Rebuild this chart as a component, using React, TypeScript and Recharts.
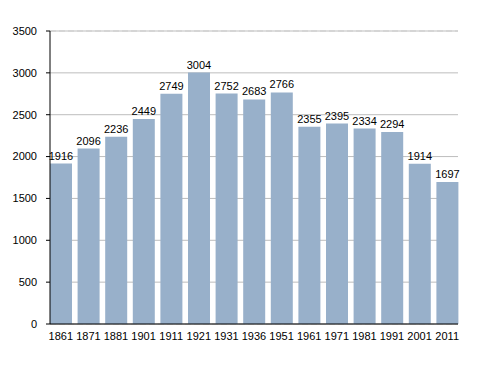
import { BarChart, Bar, XAxis, YAxis, CartesianGrid, LabelList } from 'recharts';

const years = ['1861', '1871', '1881', '1901', '1911', '1921', '1931', '1936', '1951', '1961', '1971', '1981', '1991', '2001', '2011'];
const population = [1916, 2096, 2236, 2449, 2749, 3004, 2752, 2683, 2766, 2355, 2395, 2334, 2294, 1914, 1697];
const majorTicks = [0, 500, 1000, 1500, 2000, 2500, 3000, 3500];
const minorTicks = Array.from({ length: 36 }, (_, i) => i * 100);

const data = years.map((y, i) => ({ year: y, value: population[i] }));

const FONT = '"Liberation Sans", Arial, sans-serif';

export default function App() {
  return (
    <div style={{ margin: -8, width: 488, height: 373, background: '#fff', fontFamily: FONT }}>
      <BarChart
        width={488}
        height={373}
        data={data}
        margin={{ top: 31, right: 30, left: 0, bottom: 29 }}
        barCategoryGap={3}
      >
        <CartesianGrid yAxisId="minor" vertical={false} stroke="#dcdcdc" strokeDasharray="6 3" />
        <CartesianGrid yAxisId="main" vertical={false} stroke="#bdbdbd" />
        <XAxis
          dataKey="year"
          axisLine={{ stroke: '#000' }}
          tickLine={false}
          tick={{ fill: '#000', fontSize: 11, fontFamily: FONT }}
          tickMargin={2}
          height={20}
          interval={0}
          padding={{ left: -3, right: -3 }}
        />
        <YAxis
          yAxisId="main"
          domain={[0, 3500]}
          ticks={majorTicks}
          width={50}
          axisLine={{ stroke: '#000' }}
          tickLine={{ stroke: '#000' }}
          tickSize={4}
          tickMargin={9}
          tick={{ fill: '#000', fontSize: 11, fontFamily: FONT }}
        />
        <YAxis
          yAxisId="minor"
          domain={[0, 3500]}
          ticks={minorTicks}
          width={0}
          mirror
          axisLine={false}
          tickLine={{ stroke: '#000' }}
          tickSize={3}
          tickFormatter={() => ''}
          interval={0}
        />
        <Bar yAxisId="main" dataKey="value" fill="#98b0ca" isAnimationActive={false}>
          <LabelList dataKey="value" position="top" offset={4} fill="#000" fontSize={11} fontFamily={FONT} />
        </Bar>
      </BarChart>
    </div>
  );
}
